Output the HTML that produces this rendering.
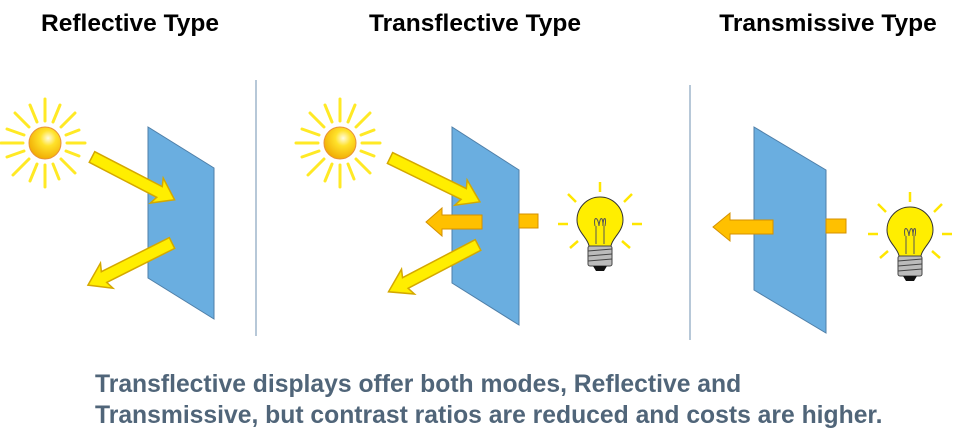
<!DOCTYPE html>
<html><head><style>
body{margin:0;background:#fff;width:955px;height:445px;overflow:hidden;font-family:"Liberation Sans",sans-serif}
svg{position:absolute;left:0;top:0}
.t{font-weight:bold;font-size:24.5px;fill:#000}
.b{font-weight:bold;font-size:24.7px;fill:#506579}
</style></head><body>
<svg width="955" height="445" viewBox="0 0 955 445">
<defs>
<radialGradient id="sg" cx="0.6" cy="0.35" r="0.7"><stop offset="0" stop-color="#fffbe0"/><stop offset="0.35" stop-color="#ffe22a"/><stop offset="1" stop-color="#f0a800"/></radialGradient>
<g id="sun">
<g stroke="#ffe600" stroke-width="3" stroke-linecap="round" opacity="0.85">
<line x1="0" y1="-22" x2="0" y2="-44"/><line x1="0" y1="22" x2="0" y2="44"/>
<line x1="-22" y1="0" x2="-44" y2="0"/><line x1="22" y1="0" x2="40" y2="0"/>
<line x1="16" y1="-16" x2="30" y2="-30"/><line x1="-16" y1="-16" x2="-30" y2="-30"/>
<line x1="16" y1="16" x2="30" y2="30"/><line x1="-16" y1="16" x2="-32" y2="32"/>
<line x1="8" y1="-21" x2="15" y2="-38"/><line x1="-8" y1="-21" x2="-15" y2="-38"/>
<line x1="8" y1="21" x2="14" y2="36"/><line x1="-8" y1="21" x2="-15" y2="38"/>
<line x1="21" y1="-8" x2="34" y2="-13"/><line x1="-21" y1="-8" x2="-38" y2="-14"/>
<line x1="21" y1="8" x2="34" y2="13"/><line x1="-21" y1="8" x2="-38" y2="14"/>
</g>
<circle r="16" fill="url(#sg)" stroke="#e8903a" stroke-width="1"/>
</g>
<g id="bulb">
<g stroke="#ffe600" stroke-width="2.5">
<line x1="0" y1="-42" x2="0" y2="-32"/><line x1="-32" y1="-30" x2="-24" y2="-22"/><line x1="32" y1="-30" x2="24" y2="-22"/>
<line x1="-42" y1="0" x2="-32" y2="0"/><line x1="42" y1="0" x2="32" y2="0"/>
<line x1="-30" y1="24" x2="-22" y2="17"/><line x1="30" y1="24" x2="22" y2="17"/>
</g>
<path d="M-11,22 C-12,14 -23,8 -23,-4 A23,23 0 1 1 23,-4 C23,8 12,14 11,22 Z" fill="#ffee00" stroke="#333" stroke-width="1"/>
<path d="M-4,20 L-4,2 M4,20 L4,2 M-5,2 C-7,-8 -2,-8 -1,2 C0,-8 3,-8 3,2 C3,-8 7,-8 5,2" fill="none" stroke="#555" stroke-width="1"/>
<rect x="-12" y="22" width="24" height="20" rx="2" fill="#bbb" stroke="#444" stroke-width="1"/>
<path d="M-12,27 L12,25 M-12,32 L12,30 M-12,37 L12,35" stroke="#444" stroke-width="1"/>
<path d="M-7,42 L7,42 L4,47 L-4,47 Z" fill="#111"/>
</g>
</defs>

<text class="t" x="130" y="31" text-anchor="middle">Reflective Type</text>
<text class="t" x="475" y="31" text-anchor="middle">Transflective Type</text>
<text class="t" x="828" y="31" text-anchor="middle">Transmissive Type</text>

<line x1="256" y1="80" x2="256" y2="336" stroke="#9fb6cc" stroke-width="1.5"/>
<line x1="690" y1="85" x2="690" y2="340" stroke="#9fb6cc" stroke-width="1.5"/>

<use href="#sun" x="45" y="143"/>
<polygon points="148,127 214,168 214,319 148,278" fill="#6aaee0" stroke="#4f7fa8" stroke-width="1"/>
<g transform="translate(92,157) rotate(27.4)"><path d="M0,-6 L76,-6 L73,-14 L93,0 L73,14 L76,6 L0,6 Z" fill="#ffee00" stroke="#d4a800" stroke-width="1.5"/></g>
<g transform="translate(172,243) rotate(153.4)"><path d="M0,-6 L76,-6 L73,-14 L94,0 L73,14 L76,6 L0,6 Z" fill="#ffee00" stroke="#d4a800" stroke-width="1.5"/></g>

<use href="#sun" x="340" y="143"/>
<polygon points="452,127 519,170 519,325 452,283" fill="#6aaee0" stroke="#4f7fa8" stroke-width="1"/>
<g transform="translate(390,158) rotate(26)"><path d="M0,-6 L82,-6 L79,-14 L100,0 L79,14 L82,6 L0,6 Z" fill="#ffee00" stroke="#d4a800" stroke-width="1.5"/></g>
<g transform="translate(478,245) rotate(152.4)"><path d="M0,-6 L82,-6 L79,-14 L101,0 L79,14 L82,6 L0,6 Z" fill="#ffee00" stroke="#d4a800" stroke-width="1.5"/></g>
<path d="M482,215 L442,215 L442,208 L426,222 L442,236 L442,229 L482,229 Z" fill="#ffc000" stroke="#d49000" stroke-width="1"/>
<rect x="519" y="214" width="19" height="14" fill="#ffc000" stroke="#d49000" stroke-width="1"/>
<use href="#bulb" x="600" y="224"/>

<polygon points="754,127 826,170 826,333 754,290" fill="#6aaee0" stroke="#4f7fa8" stroke-width="1"/>
<path d="M773,220 L730,220 L730,213 L713,227 L730,241 L730,234 L773,234 Z" fill="#ffc000" stroke="#d49000" stroke-width="1"/>
<rect x="826" y="219" width="20" height="14" fill="#ffc000" stroke="#d49000" stroke-width="1"/>
<use href="#bulb" x="910" y="234"/>

<text class="b" x="95" y="392">Transflective displays offer both modes, Reflective and</text>
<text class="b" x="95" y="423">Transmissive, but contrast ratios are reduced and costs are higher.</text>
</svg>
</body></html>
